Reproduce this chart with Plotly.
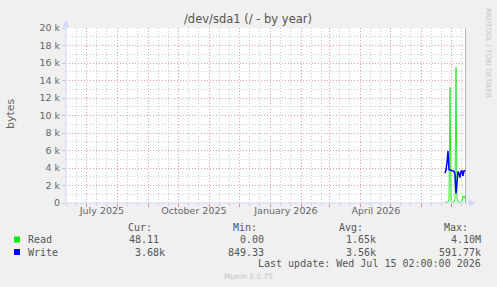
import plotly.graph_objects as go

# ---------------- data ----------------
dates = ["2026-06-24 02:00", "2026-06-25 02:00", "2026-06-26 02:00", "2026-06-27 02:00",
         "2026-06-28 02:00", "2026-06-29 02:00", "2026-06-30 02:00", "2026-07-01 02:00",
         "2026-07-02 02:00", "2026-07-03 02:00", "2026-07-04 02:00", "2026-07-05 02:00",
         "2026-07-06 02:00", "2026-07-07 02:00", "2026-07-08 02:00", "2026-07-09 02:00",
         "2026-07-10 02:00", "2026-07-11 02:00", "2026-07-12 02:00", "2026-07-13 02:00",
         "2026-07-14 02:00", "2026-07-15 02:00"]
read_bytes = [100, 100, 100, 100, 350, 13200, 300, 100, 50, 100, 500, 15500,
              500, 100, 50, 100, 50, 200, 800, 600, 800, 48.11]
write_bytes = [3400, 3800, 4600, 5950, 3800, 3800, 3750, 3700, 3700, 3600, 3300, 1100,
               2600, 3600, 3400, 2900, 3600, 3700, 3100, 3700, 3700, 3680]

x_range = ["2025-06-10 02:00", "2026-07-15 02:00"]
month_starts = ["2025-07-01", "2025-08-01", "2025-09-01", "2025-10-01", "2025-11-01",
                "2025-12-01", "2026-01-01", "2026-02-01", "2026-03-01", "2026-04-01",
                "2026-05-01", "2026-06-01", "2026-07-01"]
minor_days = ["2025-06-11", "2025-06-21", "2025-07-11", "2025-07-21", "2025-08-11", "2025-08-21",
              "2025-09-11", "2025-09-21", "2025-10-11", "2025-10-21", "2025-11-11", "2025-11-21",
              "2025-12-11", "2025-12-21", "2026-01-11", "2026-01-21", "2026-02-11", "2026-02-21",
              "2026-03-11", "2026-03-21", "2026-04-11", "2026-04-21", "2026-05-11", "2026-05-21",
              "2026-06-11", "2026-06-21", "2026-07-11"]
label_dates = ["2025-07-16", "2025-10-16", "2026-01-16", "2026-04-16"]
label_texts = ["July 2025", "October 2025", "January 2026", "April 2026"]

y_tickvals = [0, 2000, 4000, 6000, 8000, 10000, 12000, 14000, 16000, 18000, 20000]
y_ticktext = ["0", "2 k", "4 k", "6 k", "8 k", "10 k", "12 k", "14 k", "16 k", "18 k", "20 k"]

series_names = ["Read", "Write"]
series_colors = ["#00EE00", "#0000FF"]
cur_vals = ["48.11\u00a0", "3.68k"]
min_vals = ["0.00\u00a0", "849.33\u00a0"]
avg_vals = ["1.65k", "3.56k"]
max_vals = ["4.10M", "591.77k"]

# ---------------- geometry helpers (pixel -> paper) ----------------
W, H = 497, 287
L, R, T, B = 66, 466, 28, 203


def px(x):
    return (x - L) / (R - L)


def py(y):
    return (B - y) / (B - T)


fig = go.Figure()
fig.add_trace(go.Scatter(x=dates, y=read_bytes, mode="lines",
                         line=dict(color=series_colors[0], width=1.0),
                         opacity=0.85, showlegend=False, hoverinfo="skip"))
fig.add_trace(go.Scatter(x=dates, y=write_bytes, mode="lines",
                         line=dict(color=series_colors[1], width=1.5),
                         showlegend=False, hoverinfo="skip"))
fig.add_trace(go.Scatter(x=[], y=[], xaxis="x2", showlegend=False, hoverinfo="skip"))

grid_dash = "1px,2px"
fig.update_layout(
    width=W, height=H,
    margin=dict(l=L, r=W - R, t=T, b=H - B, pad=0),
    paper_bgcolor="#F0F0F0", plot_bgcolor="#FFFFFF",
    font=dict(family="DejaVu Sans", color="#666666", size=10),
    xaxis=dict(type="date", range=x_range, tickmode="array", tickvals=month_starts,
               showticklabels=False, showgrid=True, gridcolor="#E6A0A0", griddash=grid_dash,
               gridwidth=1, ticks="outside", ticklen=3, tickcolor="#E18888", zeroline=False,
               showline=False,
               minor=dict(tickmode="array", tickvals=minor_days, showgrid=True,
                          gridcolor="#CDCDCD", griddash=grid_dash, gridwidth=1,
                          ticks="outside", ticklen=2, tickcolor="#CCCCCC")),
    xaxis2=dict(type="date", range=x_range, overlaying="x", anchor="y", side="bottom",
                tickmode="array", tickvals=label_dates, ticktext=label_texts,
                showgrid=False, ticks="", zeroline=False, showline=False,
                tickfont=dict(size=9.5, color="#666666")),
    yaxis=dict(range=[0, 20000], tickmode="array", tickvals=y_tickvals, ticktext=y_ticktext,
               showgrid=True, gridcolor="#E6A0A0", griddash=grid_dash, gridwidth=1,
               ticks="outside", ticklen=3, tickcolor="#C8C8C8", zeroline=False, showline=False,
               tickfont=dict(size=9.5, color="#666666"),
               minor=dict(dtick=1000, showgrid=True, gridcolor="#CDCDCD", griddash=grid_dash,
                          gridwidth=1)),
)

axis_col = "#CFD6F8"
shapes = [
    # axis lines
    dict(type="line", xref="paper", yref="paper", x0=0, x1=px(470), y0=0, y1=0,
         line=dict(color=axis_col, width=1)),
    dict(type="line", xref="paper", yref="paper", x0=0, x1=0, y0=0, y1=py(23),
         line=dict(color=axis_col, width=1)),
    # arrows
    dict(type="path", xref="paper", yref="paper",
         path=f"M {px(469)} {py(199.5)} L {px(475)} {py(203)} L {px(469)} {py(206.5)} Z",
         fillcolor=axis_col, line=dict(color=axis_col, width=0)),
    dict(type="path", xref="paper", yref="paper",
         path=f"M {px(62.5)} {py(27)} L {px(66)} {py(20)} L {px(69.5)} {py(27)} Z",
         fillcolor=axis_col, line=dict(color=axis_col, width=0)),
    # right rule at last update
    dict(type="line", xref="x", yref="paper", x0=x_range[1], x1=x_range[1], y0=0, y1=1,
         line=dict(color="#A0A0A0", width=1.5)),
]
row_y = [239.5, 252]
for c, yy in zip(series_colors, row_y):
    shapes.append(dict(type="rect", xref="paper", yref="paper",
                       x0=px(14), x1=px(20), y0=py(yy - 3), y1=py(yy + 3),
                       fillcolor=c, line=dict(width=0)))
fig.update_layout(shapes=shapes)

mono = dict(family="DejaVu Sans Mono", size=10, color="#555555")
ann = []


def text(x, y, s, xanchor="left", font=mono, **kw):
    ann.append(dict(x=px(x), y=py(y), xref="paper", yref="paper", text=s,
                    showarrow=False, xanchor=xanchor, yanchor="middle", font=font, **kw))


# title and side texts
text(248, 19, "/dev/sda1 (/ - by year)", "center",
     dict(family="DejaVu Sans", size=11.5, color="#555555"))
text(10, 113, "bytes", "center", dict(family="DejaVu Sans", size=11, color="#666666"),
     textangle=-90)
text(488, 53, "RRDTOOL / TOBI OETIKER", "center",
     dict(family="DejaVu Sans", size=7, color="#C4C4C4"), textangle=90)
text(248, 276, "Munin 2.0.75", "center", dict(family="DejaVu Sans", size=7.5, color="#C4C4C4"))

# legend table
hdr_y = 227
text(154, hdr_y, "Cur:", "right")
text(259, hdr_y, "Min:", "right")
text(365, hdr_y, "Avg:", "right")
text(470, hdr_y, "Max:", "right")
for i, yy in enumerate(row_y):
    text(26, yy, series_names[i], "left")
    text(167, yy, cur_vals[i], "right")
    text(272, yy, min_vals[i], "right")
    text(378, yy, avg_vals[i], "right")
    text(483, yy, max_vals[i], "right")
text(483, 263.5, "Last update: Wed Jul 15 02:00:00 2026", "right")

fig.update_layout(annotations=ann)
fig.write_html("out.html")
